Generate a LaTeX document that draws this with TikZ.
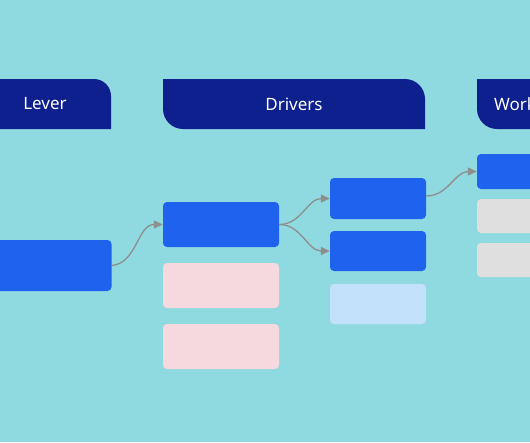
\documentclass[tikz,border=0pt]{standalone}
\usepackage{fontspec}
\setmainfont{Noto Sans}
\usetikzlibrary{arrows.meta}
\definecolor{bg}{HTML}{8FD9E1}
\definecolor{hdr}{HTML}{0E1F8E}
\definecolor{blu}{HTML}{1F62EE}
\definecolor{pnk}{HTML}{F6D9DF}
\definecolor{lblu}{HTML}{C3E1FA}
\definecolor{gry}{HTML}{DFDFDF}
\definecolor{arr}{HTML}{8E8E8E}
\tikzset{
  box/.style={rectangle, rounded corners=4pt, inner sep=0pt, draw=none},
  col/.style={box, minimum width=96pt},
  hdrtext/.style={text=white, font=\fontsize{17}{20}\selectfont, inner sep=0pt},
  link/.style={draw=arr, line width=1.3pt, -{Triangle[length=9pt,width=8pt]}},
}
\begin{document}
\begin{tikzpicture}[x=1pt,y=-1pt]
\useasboundingbox (0,0) rectangle (530,442);
\clip (0,0) rectangle (530,442);
\fill[bg] (0,0) rectangle (530,442);
% headers
\fill[hdr] (-30,79) -- (94,79) .. controls (103.4,79) and (111,86.6) .. (111,96) -- (111,129) -- (-30,129) -- cycle;
\fill[hdr] (163,79) -- (405,79) .. controls (416,79) and (425,88) .. (425,99) -- (425,129) -- (183,129) .. controls (172,129) and (163,120) .. (163,109) -- cycle;
\fill[hdr] (477,79) -- (570,79) -- (570,129) -- (497,129) .. controls (486,129) and (477,120) .. (477,109) -- cycle;
\node[hdrtext] (hlever) at (45,104) {Lever};
\node[hdrtext] (hdrivers) at (294,104) {Drivers};
\node[hdrtext, anchor=west] (hwork) at (494,104) {Work};
% lever column
\node[box, fill=blu, minimum width=141pt, minimum height=51pt] (lev) at (41,265.5) {};
% drivers column
\node[box, fill=blu, minimum width=116pt, minimum height=45pt] (d1) at (221,224.5) {};
\node[box, fill=pnk, minimum width=116pt, minimum height=45pt] (d2) at (221,285.5) {};
\node[box, fill=pnk, minimum width=116pt, minimum height=45pt] (d3) at (221,346.5) {};
% second column
\node[col, fill=blu, minimum height=41pt] (c1) at (378,198.5) {};
\node[col, fill=blu, minimum height=40pt] (c2) at (378,251) {};
\node[col, fill=lblu, minimum height=40pt] (c3) at (378,304) {};
% work column
\node[col, fill=blu, minimum height=35pt] (w1) at (525,171.5) {};
\node[col, fill=gry, minimum height=34pt] (w2) at (525,216) {};
\node[col, fill=gry, minimum height=34pt] (w3) at (525,260) {};
% connectors
\draw[link] (lev.east) to[out=5, in=180] (d1.west);
\draw[link] (d1.east) to[out=0, in=180] (c1.west);
\draw[link] (d1.east) to[out=0, in=180] (c2.west);
\draw[link] ([yshift=2.5pt]c1.east) to[out=0, in=180] (w1.west);
\end{tikzpicture}
\end{document}
